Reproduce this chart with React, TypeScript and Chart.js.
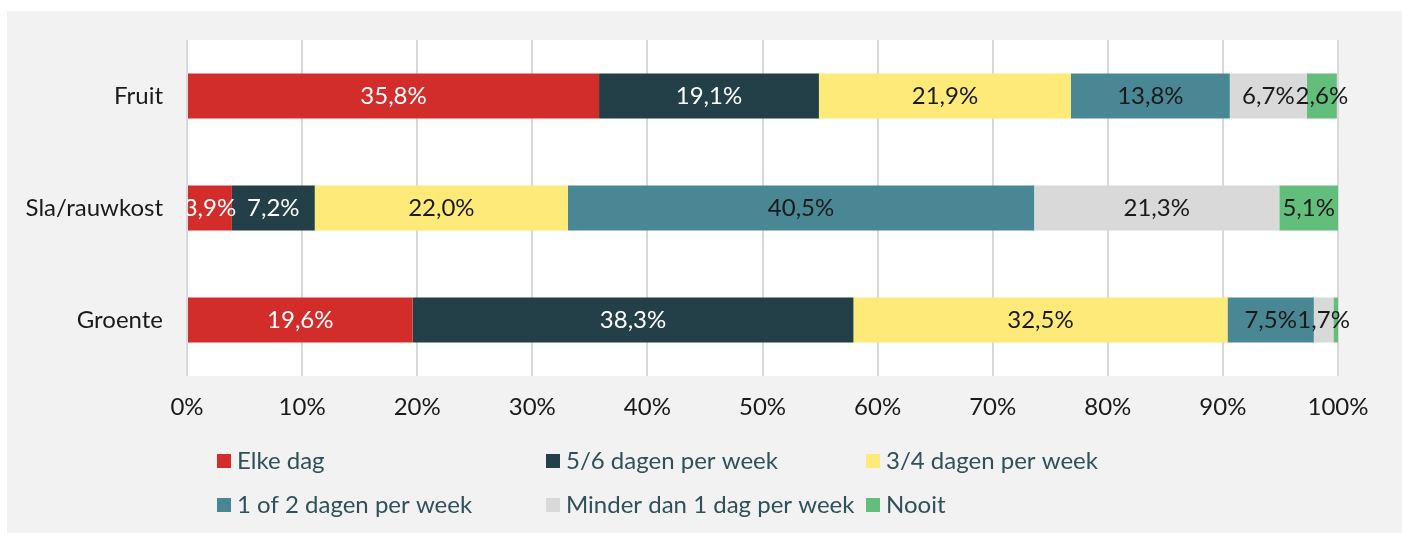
import React, { useEffect, useRef } from 'react';
import { Chart, registerables } from 'chart.js';

Chart.register(...registerables);

const categories = ['Fruit', 'Sla/rauwkost', 'Groente'];
const seriesNames = [
  'Elke dag',
  '5/6 dagen per week',
  '3/4 dagen per week',
  '1 of 2 dagen per week',
  'Minder dan 1 dag per week',
  'Nooit',
];
const elkeDag = [35.8, 3.9, 19.6];
const vijfZesDagen = [19.1, 7.2, 38.3];
const drieVierDagen = [21.9, 22.0, 32.5];
const eenTweeDagen = [13.8, 40.5, 7.5];
const minderDanEen = [6.7, 21.3, 1.7];
const nooit = [2.6, 5.1, 0.4];
const xTickValues = [0, 10, 20, 30, 40, 50, 60, 70, 80, 90, 100];

const seriesColors = ['#d32d2b', '#233f47', '#fdea79', '#4a8795', '#d9d9d9', '#63be7b'];
const labelColors = ['#ffffff', '#ffffff', '#1a1a1a', '#1a1a1a', '#1a1a1a', '#1a1a1a'];

const FONT = 'Lato, "Noto Sans", sans-serif';

const fmt = (v: number) => v.toFixed(1).replace('.', ',') + '%';

const bgPlugin = {
  id: 'bgPlugin',
  beforeDraw(chart: any) {
    const { ctx, chartArea } = chart;
    ctx.save();
    ctx.fillStyle = '#f2f2f2';
    ctx.fillRect(0, 0, chart.width, chart.height);
    ctx.fillStyle = '#ffffff';
    ctx.fillRect(chartArea.left, chartArea.top, chartArea.right - chartArea.left, chartArea.bottom - chartArea.top);
    ctx.restore();
  },
};

const labelPlugin = {
  id: 'labelPlugin',
  afterDatasetsDraw(chart: any) {
    const { ctx, chartArea } = chart;
    ctx.save();
    ctx.beginPath();
    ctx.rect(chartArea.left, chartArea.top, chart.width - chartArea.left, chartArea.bottom - chartArea.top);
    ctx.clip();
    ctx.font = `24px ${FONT}`;
    ctx.textAlign = 'center';
    ctx.textBaseline = 'middle';
    chart.data.datasets.forEach((ds: any, di: number) => {
      const meta = chart.getDatasetMeta(di);
      meta.data.forEach((bar: any, i: number) => {
        const v = ds.data[i];
        if (v < 1) return;
        const cx = (bar.x + bar.base) / 2;
        ctx.fillStyle = labelColors[di];
        ctx.fillText(fmt(v), cx, bar.y);
      });
    });
    ctx.restore();
  },
};

const legendPlugin = {
  id: 'legendPlugin',
  afterDraw(chart: any) {
    const { ctx } = chart;
    const colX = [210, 539, 859];
    const rowY = [450, 494];
    ctx.save();
    ctx.font = `24px ${FONT}`;
    ctx.textAlign = 'left';
    ctx.textBaseline = 'middle';
    chart.data.datasets.forEach((ds: any, i: number) => {
      const x = colX[i % 3];
      const y = rowY[Math.floor(i / 3)];
      ctx.fillStyle = ds.backgroundColor;
      ctx.fillRect(x, y - 7, 14, 14);
      ctx.fillStyle = '#30505a';
      ctx.fillText(ds.label, x + 20, y);
    });
    ctx.restore();
  },
};

export default function App() {
  const ref = useRef<HTMLCanvasElement>(null);
  useEffect(() => {
    if (!ref.current) return;
    const values = [elkeDag, vijfZesDagen, drieVierDagen, eenTweeDagen, minderDanEen, nooit];
    const chart = new Chart(ref.current, {
      type: 'bar',
      data: {
        labels: categories,
        datasets: values.map((d, i) => ({
          label: seriesNames[i],
          data: d,
          backgroundColor: seriesColors[i],
          borderWidth: 0,
          barPercentage: 0.4,
          categoryPercentage: 1,
        })),
      },
      options: {
        indexAxis: 'y',
        animation: false,
        responsive: false,
        layout: { padding: { top: 29, right: 64, bottom: 97, left: 0 } },
        plugins: { legend: { display: false }, tooltip: { enabled: false } },
        scales: {
          x: {
            stacked: true,
            min: 0,
            max: 100,
            afterBuildTicks: (scale: any) => {
              scale.ticks = xTickValues.map((v) => ({ value: v }));
            },
            afterFit: (scale: any) => {
              scale.height = 60;
            },
            grid: { color: '#d9d9d9', lineWidth: 2, drawTicks: false },
            border: { display: false },
            ticks: {
              callback: (v: any) => v + '%',
              color: '#1a1a1a',
              font: { family: FONT, size: 24 },
              padding: 17,
              maxRotation: 0,
            },
          },
          y: {
            stacked: true,
            grid: { display: false, drawTicks: false },
            border: { display: false },
            afterFit: (scale: any) => {
              scale.width = 180;
              scale.paddingTop = 0;
              scale.paddingBottom = 0;
            },
            ticks: {
              color: '#1a1a1a',
              font: { family: FONT, size: 24 },
              padding: 24,
            },
          },
        },
      },
      plugins: [bgPlugin, labelPlugin, legendPlugin],
    } as any);
    return () => chart.destroy();
  }, []);
  return (
    <div style={{ position: 'absolute', left: 7, top: 11, width: 1395, height: 522 }}>
      <canvas ref={ref} width={1395} height={522} style={{ display: 'block' }} />
    </div>
  );
}
